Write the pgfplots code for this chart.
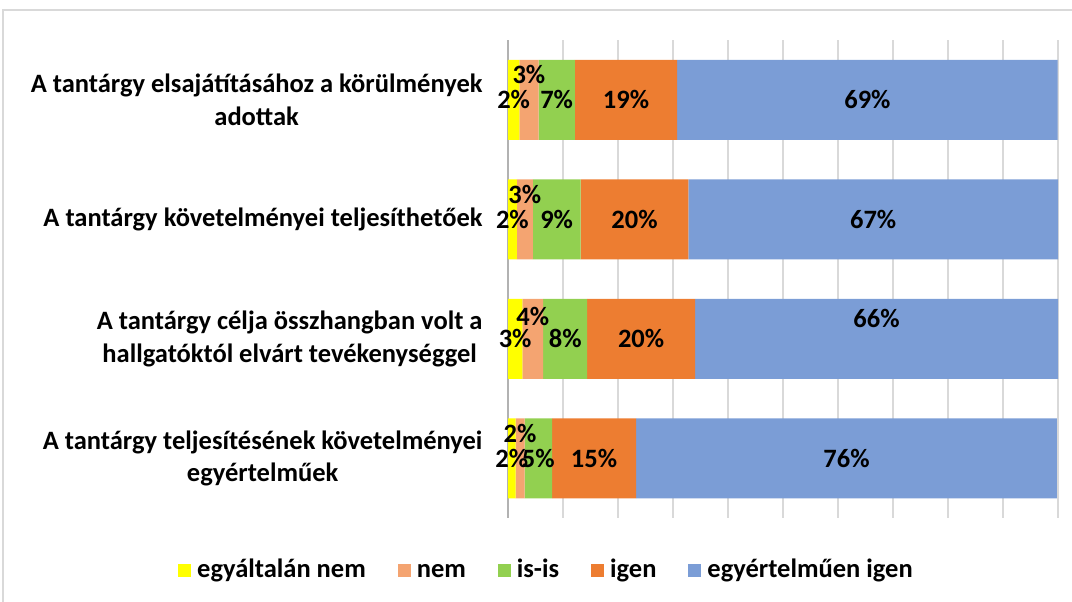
\documentclass[border=0pt]{standalone}
\usepackage{pgfplots}
\pgfplotsset{compat=1.18}
\usepackage{pgfplotstable}
\usepackage{fontspec}
\setmainfont{Carlito}
\definecolor{c1}{HTML}{FFFF00}
\definecolor{c2}{HTML}{F4A471}
\definecolor{c3}{HTML}{92D050}
\definecolor{c4}{HTML}{ED7D31}
\definecolor{c5}{HTML}{7B9DD6}
\newcommand{\lblfont}{\bfseries\fontsize{26.5bp}{32.5bp}\selectfont}

% c = row, v = segment share, lab = printed label, sh = label lift
\pgfplotstableread{
c v lab sh
0 2.05 2 0
1 1.6 2 0
2 2.6 3 0
3 1.4 2 0
}\dataA
\pgfplotstableread{
c v lab sh
0 3.5 3 25
1 2.9 3 25
2 3.8 4 22
3 1.6 2 25
}\dataB
\pgfplotstableread{
c v lab sh
0 6.6 7 0
1 8.7 9 0
2 8.0 8 0
3 5.0 5 0
}\dataC
\pgfplotstableread{
c v lab sh
0 18.6 19 0
1 19.6 20 0
2 19.6 20 0
3 15.3 15 0
}\dataD
\pgfplotstableread{
c v lab sh
0 69.2 69 0
1 67.2 67 0
2 66.0 66 20
3 76.5 76 0
}\dataE

\begin{document}
\begin{tikzpicture}
\path[use as bounding box] (0bp,0bp) rectangle (1072bp,602bp);
\draw[black!15, line width=1.2bp] (3bp,0bp) -- (3bp,592bp) -- (1072bp,592bp);
\begin{axis}[
  at={(508bp,84bp)}, anchor=south west,
  scale only axis, width=550bp, height=478bp,
  xbar stacked, bar width=80bp,
  xmin=0, xmax=100, ymin=-0.5, ymax=3.5, y dir=reverse,
  ytick={0,1,2,3},
  yticklabels={{A tantárgy elsajátításához a körülmények\\adottak},
    {A tantárgy követelményei teljesíthetőek},
    {A tantárgy célja összhangban volt a\\hallgatóktól elvárt tevékenységgel},
    {A tantárgy teljesítésének követelményei\\egyértelműek}},
  yticklabel style={align=center, font=\lblfont, xshift=-22bp},
  xtick={10,20,...,100}, xticklabels={},
  extra x ticks={0}, extra x tick labels={},
  extra x tick style={grid style={black!30, line width=1.2bp}},
  major tick length=0pt,
  xmajorgrids, grid style={black!15, line width=1.2bp},
  axis line style={draw=none},
  /pgf/number format/assume math mode=true,
  point meta=explicit,
  nodes near coords={\pgfmathprintnumber{\pgfplotspointmeta}\%},
  visualization depends on={\thisrow{sh} \as \labsh},
  every node near coord/.append style={font=\lblfont, text=black, anchor=center, yshift=\labsh},
  legend style={at={(0.07,-0.115)}, anchor=center, draw=none, fill=none,
    legend columns=5, font=\lblfont,
    nodes={text height=0.72em, text depth=0.25em},
    /tikz/every odd column/.append style={column sep=4bp},
    /tikz/every even column/.append style={column sep=30bp}},
  legend image code/.code={\fill[#1] (0bp,-2bp) rectangle (13bp,11bp);},
]
\addplot[fill=c1, draw=none] table[x=v, y=c, meta=lab] {\dataA};
\addlegendentry{egyáltalán nem}
\addplot[fill=c2, draw=none] table[x=v, y=c, meta=lab] {\dataB};
\addlegendentry{nem}
\addplot[fill=c3, draw=none] table[x=v, y=c, meta=lab] {\dataC};
\addlegendentry{is-is}
\addplot[fill=c4, draw=none] table[x=v, y=c, meta=lab] {\dataD};
\addlegendentry{igen}
\addplot[fill=c5, draw=none] table[x=v, y=c, meta=lab] {\dataE};
\addlegendentry{egyértelműen igen}
\end{axis}
\end{tikzpicture}
\end{document}
